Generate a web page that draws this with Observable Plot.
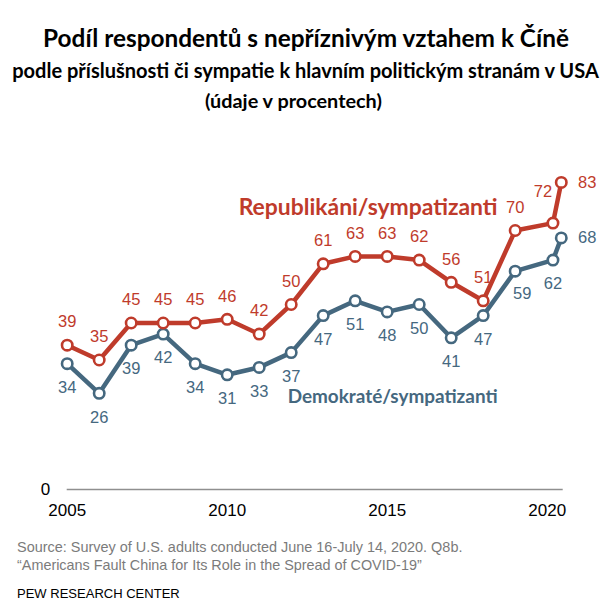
<!DOCTYPE html>
<html>
<head>
<meta charset="utf-8">
<script src="https://cdn.jsdelivr.net/npm/d3@7"></script>
<script src="https://cdn.jsdelivr.net/npm/@observablehq/plot@0.6"></script>
<style>
  html, body { margin: 0; padding: 0; background: #fff; }
  #wrap { position: relative; width: 605px; height: 616px; overflow: hidden; }
  .t { position: absolute; white-space: nowrap; line-height: 1; }
  .title { font-family: Lato, "Open Sans", sans-serif; font-weight: 700; color: #000; }
  .cap { font-family: "Liberation Sans Narrow", "Liberation Sans", Arial, sans-serif; color: #7b7b7b; }
  #chart { position: absolute; left: 0; top: 120px; }
</style>
</head>
<body>
<div id="wrap">
  <div class="t title" id="t1">Podíl respondentů s nepříznivým vztahem k Číně</div>
  <div class="t title" id="t2">podle příslušnosti či sympatie k hlavním politickým stranám v USA</div>
  <div class="t title" id="t3">(údaje v procentech)</div>
  <div id="chart"></div>
  <div class="t cap" id="c1">Source: Survey of U.S. adults conducted June 16-July 14, 2020. Q8b.</div>
  <div class="t cap" id="c2">“Americans Fault China for Its Role in the Spread of COVID-19”</div>
  <div class="t cap" id="c3" style="color:#000">PEW RESEARCH CENTER</div>
</div>
<script>
// ---- data ----
const years = [2005, 2006, 2007, 2008, 2009, 2010, 2011, 2012, 2013, 2014, 2015, 2016, 2017, 2018, 2019, 2020.18, 2020.44];
const repValues = [39, 35, 45, 45, 45, 46, 42, 50, 61, 63, 63, 62, 56, 51, 70, 72, 83];
const demValues = [34, 26, 39, 42, 34, 31, 33, 37, 47, 51, 48, 50, 41, 47, 59, 62, 68];
const xTicks = [2005, 2010, 2015, 2020];
const yTicks = [0];
const seriesNames = ["Republikáni/sympatizanti", "Demokraté/sympatizanti"];

const RED = "#bf3b2b";
const BLUE = "#45687f";

const rep = years.map((year, i) => ({year, value: repValues[i], i}));
const dem = years.map((year, i) => ({year, value: demValues[i], i}));
const last = years.length - 1;

const numFont = {fontFamily: "Liberation Sans, Arial, sans-serif", fontSize: 16.5};

const chart = Plot.plot({
  width: 605,
  height: 405,
  marginLeft: 66.7,
  marginRight: 42.3,
  marginTop: 36,
  marginBottom: 36,
  x: {domain: [2005, 2020.5]},
  y: {domain: [0, 90]},
  style: {fontFamily: "Liberation Sans, Arial, sans-serif", fontSize: "17px", color: "#000", background: "transparent", overflow: "visible"},
  marks: [
    Plot.ruleY(yTicks, {stroke: "#8f8f8f", strokeWidth: 1.3}),
    Plot.axisX({ticks: xTicks, tickSize: 0, tickPadding: 14, tickFormat: "d", fontSize: 17, label: null}),
    Plot.axisY({ticks: yTicks, tickSize: 0, tickPadding: 17, fontSize: 17, label: null}),
    Plot.line(dem, {x: "year", y: "value", stroke: BLUE, strokeWidth: 4.5, strokeLinejoin: "round"}),
    Plot.line(rep, {x: "year", y: "value", stroke: RED, strokeWidth: 4.5, strokeLinejoin: "round"}),
    Plot.dot(dem, {x: "year", y: "value", r: 5.2, fill: "#fff", stroke: BLUE, strokeWidth: 2.6}),
    Plot.dot(rep, {x: "year", y: "value", r: 5.2, fill: "#fff", stroke: RED, strokeWidth: 2.6}),
    // value labels: Republicans above, Democrats below
    Plot.text(rep.filter(d => d.i < last - 1), {x: "year", y: "value", text: "value", dy: -23, fill: RED, ...numFont}),
    Plot.text(rep.filter(d => d.i === last - 1), {x: "year", y: "value", text: "value", dy: -31, dx: -10, fill: RED, ...numFont}),
    Plot.text(rep.filter(d => d.i === last), {x: "year", y: "value", text: "value", dx: 26, fill: RED, ...numFont}),
    Plot.text(dem.filter(d => d.i < last - 2 || d.i === last - 1), {x: "year", y: "value", text: "value", dy: 24, fill: BLUE, ...numFont}),
    Plot.text(dem.filter(d => d.i === last - 2), {x: "year", y: "value", text: "value", dy: 23, dx: 7, fill: BLUE, ...numFont}),
    Plot.text(dem.filter(d => d.i === last), {x: "year", y: "value", text: "value", dx: 26, fill: BLUE, ...numFont}),
    // series labels
    Plot.text([seriesNames[0]], {x: 2018.45, y: 76.2, text: d => d, textAnchor: "end", fill: RED, fontFamily: "Lato, sans-serif", fontWeight: 700, fontSize: 20}),
    Plot.text([seriesNames[1]], {x: 2018.45, y: 24.9, text: d => d, textAnchor: "end", fill: BLUE, fontFamily: "Lato, sans-serif", fontWeight: 700, fontSize: 20})
  ]
});
document.getElementById("chart").appendChild(chart);

// fit series labels to reference widths
const targets = {[seriesNames[0]]: 259, [seriesNames[1]]: 210};
chart.querySelectorAll("text").forEach(t => {
  const w = targets[t.textContent];
  if (w) {
    const fs = 20;
    const bw = t.getBBox().width;
    t.setAttribute("font-size", (fs * w / bw).toFixed(2));
  }
});

// fit HTML texts to reference widths and centres
function fit(id, width, x, cy, anchor, base) {
  const el = document.getElementById(id);
  el.style.fontSize = base + "px";
  const w = el.getBoundingClientRect().width;
  const fs = base * width / w;
  el.style.fontSize = fs + "px";
  const r = el.getBoundingClientRect();
  el.style.top = (cy - r.height / 2) + "px";
  el.style.left = (anchor === "middle" ? x - r.width / 2 : x) + "px";
}
fit("t1", 526, 306, 38, "middle", 24);
fit("t2", 587, 305.5, 70, "middle", 19);
fit("t3", 177, 293.5, 101, "middle", 19);
fit("c1", 446, 17, 547, "start", 15);
fit("c2", 405, 17, 565, "start", 15);
fit("c3", 163, 17, 594, "start", 15);
</script>
</body>
</html>
